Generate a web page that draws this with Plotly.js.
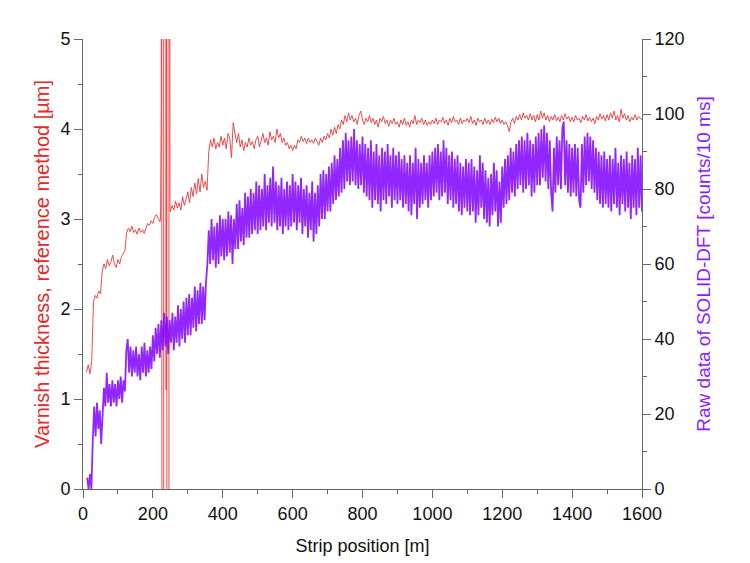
<!DOCTYPE html>
<html>
<head>
<meta charset="utf-8">
<script src="https://cdn.plot.ly/plotly-3.0.1.min.js"></script>
<style>
  html, body { margin: 0; padding: 0; background: #fff; }
  #chart { width: 750px; height: 563px; }
</style>
</head>
<body>
<div id="chart"></div>
<script>
// SOLID-DFT raw counts, one reading every 4 m starting at 4 m (each row = 100 m)
const PURPLE_X0 = 4;
const PURPLE_STEP = 4;
const purpleCounts = [
  null, null, 3, 0, 4, 0, 13, 22, 14, 23, 16, 21, 12, 19, 27, 22, 31, 23, 28, 22, 29, 23, 28, 22, 29,
  24, 30, 23, 29, 26, 37, 40, 31, 38, 30, 37, 31, 38, 30, 36, 29, 38, 31, 39, 30, 37, 31, 38, 32, 41,
  34, 43, 36, 44, 35, 45, 37, 47, 38, 46, 36, 45, 39, 47, 37, 46, 39, 49, 38, 48, 40, 50, 39, 51, 41,
  52, 41, 51, 43, 54, 42, 53, 44, 55, 44, 54, 45, 55, 60, 69, 60, 72, 61, 70, 59, 71, 60, 73, 62, 72,
  61, 72, 62, 74, 63, 73, 60, 72, 64, 76, 64, 77, 66, 75, 65, 79, 67, 78, 67, 80, 68, 79, 69, 82, 68,
  81, 69, 80, 70, 84, 69, 81, 71, 83, 70, 86, 71, 82, 69, 81, 70, 83, 68, 80, 70, 82, 69, 81, 70, 84,
  71, 82, 69, 81, 71, 83, 68, 80, 70, 81, 67, 79, 69, 82, 66, 79, 68, 81, 70, 84, 72, 85, 72, 84, 74,
  86, 74, 87, 76, 89, 77, 88, 78, 91, 79, 93, 80, 95, 82, 93, 81, 94, 82, 96, 81, 93, 80, 92, 81, 94,
  79, 92, 78, 91, 77, 93, 75, 90, 77, 92, 76, 89, 74, 91, 77, 90, 76, 92, 78, 89, 75, 91, 77, 89, 76,
  90, 77, 88, 75, 89, 76, 87, 74, 89, 73, 87, 76, 91, 72, 88, 75, 87, 76, 89, 77, 87, 75, 89, 77, 90,
  78, 91, 79, 92, 77, 90, 78, 93, 79, 91, 76, 89, 77, 90, 75, 88, 76, 89, 74, 87, 73, 86, 75, 88, 74,
  87, 73, 88, 74, 86, 71, 85, 73, 89, 75, 87, 72, 85, 71, 83, 70, 84, 73, 87, 74, 85, 70, 82, 71, 86,
  75, 88, 76, 89, 77, 91, 79, 90, 78, 92, 80, 93, 81, 94, 79, 93, 80, 95, 81, 93, 78, 92, 79, 94, 81,
  95, 81, 96, 83, 97, 82, 95, 80, 93, 79, 74, 91, 79, 94, 81, 93, 80, 96, 98, 81, 93, 79, 92, 78, 91,
  79, 92, 78, 91, 77, 75, 92, 79, 94, 81, 95, 82, 94, 80, 93, 79, 91, 77, 90, 76, 89, 75, 90, 76, 88,
  75, 89, 74, 88, 76, 91, 75, 87, 73, 89, 76, 88, 74, 90, 75, 87, 72, 89, 75, 88, 73, 91, 75, 89, 74
];

// reference-method thickness [µm], every 5 m from 10 m to 220 m
const RED_START_X0 = 10;
const RED_STEP = 5;
const redStart = [
  1.30, 1.38, 1.28, 1.42,
  2.08, 2.15, 2.12, 2.20, 2.17, 2.42, 2.50, 2.45, 2.55, 2.48, 2.52, 2.60, 2.50, 2.46, 2.55,
  2.50, 2.58, 2.62, 2.65, 2.85, 2.90, 2.86, 2.92, 2.85, 2.88, 2.83, 2.90, 2.85, 2.88, 2.84, 2.90,
  2.95, 2.93, 2.98, 2.95, 3.02, 3.05, 3.00, 2.97
];

// outliers of the reference gauge around 225-250 m (run off the scale)
const spikeX = [222, 224, 225, 226, 231, 231, 237, 238, 239, 240, 240, 246, 246, 247.5, 249];
const spikeY = [3.0, 4.25, 12, -2, -2, 12, 12, 1.1, 12, 12, -2, -2, 12, 12, 3.1];

// every 5 m from 250 m to 1600 m
const RED_END_X0 = 250;
const redEnd = [
  3.08, 3.15, 3.10, 3.20, 3.12, 3.18, 3.10, 3.25, 3.15, 3.22,
  3.30, 3.18, 3.35, 3.25, 3.40, 3.28, 3.45, 3.30, 3.50, 3.35, 3.42, 3.32, 3.75, 3.88, 3.80, 3.90, 3.78, 3.85, 3.80, 3.92,
  3.82, 3.90, 3.78, 3.95, 3.90, 3.68, 4.07, 3.95, 3.85, 3.95, 3.80, 3.88, 3.76, 3.85, 3.80, 3.90, 3.82, 3.86, 3.78, 3.88,
  3.92, 3.80, 3.88, 3.95, 3.85, 3.90, 3.82, 3.97, 3.88, 3.92, 3.85, 4.00, 3.90, 3.95, 3.85, 3.90, 3.82, 3.85, 3.78, 3.82,
  3.76, 3.82, 3.78, 3.88, 3.85, 3.92, 3.86, 3.90, 3.84, 3.90, 3.85, 3.88, 3.84, 3.90, 3.86, 3.82, 3.90, 3.85, 3.92, 3.88,
  3.95, 3.90, 4.00, 3.93, 4.02, 3.95, 4.05, 4.00, 4.10, 4.05, 4.15, 4.08, 4.18, 4.10, 4.15, 4.08, 4.12, 4.05, 4.15, 4.20,
  4.10, 4.05, 4.12, 4.08, 4.15, 4.07, 4.12, 4.05, 4.10, 4.02, 4.12, 4.08, 4.14, 4.06, 4.10, 4.03, 4.10, 4.06, 4.12, 4.05,
  4.08, 4.02, 4.10, 4.05, 4.12, 4.04, 4.08, 4.02, 4.10, 4.06, 4.15, 4.05, 4.10, 4.07, 4.12, 4.05, 4.10, 4.04, 4.08, 4.05,
  4.10, 4.06, 4.12, 4.05, 4.10, 4.08, 4.13, 4.06, 4.10, 4.04, 4.12, 4.07, 4.14, 4.08, 4.10, 4.05, 4.12, 4.06, 4.10, 4.08,
  4.12, 4.07, 4.14, 4.06, 4.10, 4.04, 4.12, 4.08, 4.10, 4.05, 4.12, 4.06, 4.10, 4.05, 4.11, 4.07, 4.13, 4.08, 4.12, 4.06,
  4.10, 4.05, 4.08, 4.04, 3.97, 4.08, 4.12, 4.06, 4.14, 4.10, 4.16, 4.10, 4.18, 4.12, 4.15, 4.10, 4.17, 4.10, 4.15, 4.08,
  4.16, 4.10, 4.20, 4.12, 4.18, 4.10, 4.15, 4.08, 4.14, 4.10, 4.16, 4.09, 4.13, 4.08, 4.15, 4.10, 4.17, 4.11, 4.14, 4.08,
  4.13, 4.08, 4.15, 4.10, 4.12, 4.07, 4.14, 4.10, 4.16, 4.09, 4.13, 4.08, 4.12, 4.06, 4.14, 4.10, 4.17, 4.11, 4.15, 4.09,
  4.16, 4.10, 4.18, 4.12, 4.20, 4.10, 4.15, 4.08, 4.22, 4.12, 4.17, 4.10, 4.15, 4.08, 4.13, 4.10, 4.16, 4.10, 4.14, 4.12,
  4.10
];

const RED = "#e8393b";
const PURPLE = "#7f00ff";
const FONT = "Liberation Sans, Arial, sans-serif";

const stepX = (x0, step, n) => Array.from({ length: n }, (_, i) => x0 + i * step);

const purpleX = stepX(PURPLE_X0, PURPLE_STEP, purpleCounts.length);
const redX = stepX(RED_START_X0, RED_STEP, redStart.length)
  .concat(spikeX)
  .concat(stepX(RED_END_X0, RED_STEP, redEnd.length));
const redY = redStart.concat(spikeY).concat(redEnd);

const traces = [
  {
    type: "scatter",
    mode: "lines",
    x: purpleX,
    y: purpleCounts,
    yaxis: "y2",
    line: { color: PURPLE, width: 1.8 },
    opacity: 0.85,
    hoverinfo: "skip",
    showlegend: false,
  },
  {
    type: "scatter",
    mode: "lines",
    x: redX,
    y: redY,
    line: { color: RED, width: 0.9 },
    hoverinfo: "skip",
    showlegend: false,
  },
];

const axisCommon = {
  showgrid: false,
  zeroline: false,
  showline: true,
  linecolor: "#666",
  linewidth: 1,
  ticks: "outside",
  ticklen: 8,
  tickcolor: "#666",
  tickfont: { family: FONT, size: 18, color: "#111" },
};

const layout = {
  width: 750,
  height: 563,
  margin: { l: 83, r: 108, t: 39, b: 74 },
  paper_bgcolor: "#fff",
  plot_bgcolor: "#fff",
  font: { family: FONT },
  xaxis: {
    ...axisCommon,
    range: [0, 1600],
    dtick: 200,
    minor: { dtick: 100, ticklen: 4, tickcolor: "#666", ticks: "outside" },
    title: { text: "Strip position [m]", font: { family: FONT, size: 18, color: "#111" }, standoff: 16 },
  },
  yaxis: {
    ...axisCommon,
    range: [0, 5],
    dtick: 1,
    minor: { dtick: 0.5, ticklen: 4, tickcolor: "#666", ticks: "outside" },
    title: {
      text: "Varnish thickness, reference method [µm]",
      font: { family: FONT, size: 20, color: "#e32a2a" },
      standoff: 5,
    },
  },
  yaxis2: {
    ...axisCommon,
    overlaying: "y",
    side: "right",
    range: [0, 120],
    dtick: 20,
    minor: { dtick: 10, ticklen: 4, tickcolor: "#666", ticks: "outside" },
    title: {
      text: "Raw data of SOLID-DFT [counts/10 ms]",
      font: { family: FONT, size: 19, color: "#8a1cff" },
      standoff: 13,
    },
  },
};

Plotly.newPlot("chart", traces, layout, { staticPlot: true, displayModeBar: false });
</script>
</body>
</html>
